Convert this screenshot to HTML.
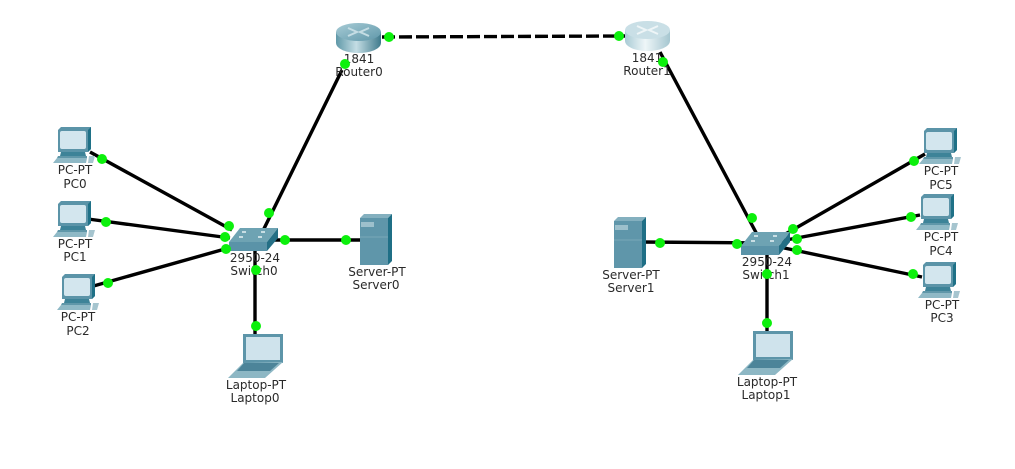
<!DOCTYPE html>
<html><head><meta charset="utf-8"><style>
html,body{margin:0;padding:0;background:#fff;width:1015px;height:469px;overflow:hidden}
svg{display:block}
text{font-family:"DejaVu Sans","Liberation Sans",sans-serif;font-size:12px;fill:#2a2a2a;text-anchor:middle}
.l{stroke:#000;stroke-width:3.4;fill:none}
.d{fill:#0cf00c}
</style></head><body>
<svg width="1015" height="469" viewBox="0 0 1015 469" xmlns="http://www.w3.org/2000/svg">
<defs>
<linearGradient id="r0" x1="0" x2="1" y1="0" y2="0"><stop offset="0" stop-color="#5f98a8"/><stop offset=".45" stop-color="#c4dde4"/><stop offset="1" stop-color="#3f7a8c"/></linearGradient>
<linearGradient id="r1" x1="0" x2="1" y1="0" y2="0"><stop offset="0" stop-color="#a9cbd5"/><stop offset=".45" stop-color="#eef6f8"/><stop offset="1" stop-color="#a5c6d0"/></linearGradient>
<linearGradient id="t0" x1="0" x2="1" y1="0" y2="1"><stop offset="0" stop-color="#a8ccd6"/><stop offset="1" stop-color="#5f97a9"/></linearGradient>
<g id="pc">
<path d="M5 3 L8 0 L38 0 L38 22 L35 25 L5 25Z" fill="#5b94a8"/>
<path d="M35 3 L38 0 L38 22 L35 25Z" fill="#1f7187"/>
<rect x="7" y="4" width="26" height="18" rx="2" fill="#d3e6ee"/>
<path d="M8 25 L32 25 L33 29 L7 29Z" fill="#3d8398"/>
<path d="M5 29 L34 29 L34 31 L4 31Z" fill="#5f97a9"/>
<path d="M4 31 L34 31 L33 36 L0 36Z" fill="#8fb9c6"/>
<path d="M36 29 L42 29 L40 36 L35 36Z" fill="#a6c5cf"/>
</g>
<g id="sw">
<path d="M0 14 L11 0 L49 0 L38 14Z" fill="#6ea3b3"/>
<path d="M0 14 L38 14 L38 23 L0 23Z" fill="#5a93a8"/>
<path d="M38 14 L49 0 L49 10 L38 23Z" fill="#246f85"/>
<path d="M13 4h4M32 4h4M10 9h4M29 9h4" stroke="#e6f1f4" stroke-width="1.4"/>
</g>
<g id="srv">
<path d="M0 4 L4 0 L32 0 L28 4Z" fill="#84b0bf"/>
<rect x="0" y="4" width="28" height="47" fill="#5f96aa"/>
<path d="M28 4 L32 0 L32 47 L28 51Z" fill="#1f6f86"/>
<rect x="1" y="8" width="13" height="5" fill="#9dc0cc"/>
<path d="M0 23H28" stroke="#78a8b8"/>
</g>
<g id="lap">
<path d="M15 0 L55 0 L55 29 L15 29Z" fill="#5d95a9"/>
<rect x="18" y="3" width="34" height="23" fill="#cfe3ec"/>
<path d="M15 29 L55 28 L37 44 L0 44Z" fill="#8db7c4"/>
<path d="M16 29 L51 29 L42 37 L9 37Z" fill="#4c8499"/>
</g>
<g id="rt">
<ellipse cx="22.5" cy="20" rx="22.5" ry="10" fill="url(#r0)"/>
<rect x="0" y="9" width="45" height="11" fill="url(#r0)"/>
<ellipse cx="22.5" cy="9" rx="22.5" ry="9" fill="url(#t0)"/>
<path d="M12 5 L21 9 L12 13M33 5 L24 9 L33 13" stroke="#c5dde4" stroke-width="2" fill="none"/>
</g>
<g id="rt1">
<ellipse cx="22.5" cy="20" rx="22.5" ry="10" fill="url(#r1)"/>
<rect x="0" y="9" width="45" height="11" fill="url(#r1)"/>
<ellipse cx="22.5" cy="9" rx="22.5" ry="9" fill="#c9dfe6"/>
<path d="M12 5 L21 9 L12 13M33 5 L24 9 L33 13" stroke="#eef5f7" stroke-width="2" fill="none"/>
</g>
</defs>

<path class="l" d="M90 152L232 230M88 219L230 238M90 287L232 247M342 70L255 247M270 240H360M255 245V335"/>
<path class="l" d="M382 37L625 36" stroke-dasharray="13 4"/>
<path class="l" d="M660 52L760 240M640 242L765 243M767 245V335M925 154L775 240M920 215L770 243M922 277L770 245"/>

<use href="#pc" x="53" y="127"/><use href="#pc" x="53" y="201"/><use href="#pc" x="57" y="274"/>
<use href="#pc" x="919" y="128"/><use href="#pc" x="916" y="194"/><use href="#pc" x="918" y="262"/>
<use href="#sw" x="229" y="228"/><use href="#sw" x="741" y="232"/>
<use href="#srv" x="360" y="214"/><use href="#srv" x="614" y="217"/>
<use href="#lap" x="228" y="334"/><use href="#lap" x="738" y="331"/>
<use href="#rt" x="336" y="23"/><use href="#rt1" x="625" y="21"/>

<text x="75" y="174">PC-PT</text><text x="75" y="188">PC0</text>
<text x="75" y="248">PC-PT</text><text x="75" y="261">PC1</text>
<text x="78" y="321">PC-PT</text><text x="78" y="335">PC2</text>
<text x="941" y="175">PC-PT</text><text x="941" y="189">PC5</text>
<text x="941" y="241">PC-PT</text><text x="941" y="255">PC4</text>
<text x="942" y="309">PC-PT</text><text x="942" y="322">PC3</text>
<text x="359" y="63">1841</text><text x="359" y="76">Router0</text>
<text x="647" y="62">1841</text><text x="647" y="75">Router1</text>
<text x="255" y="262">2950-24</text><text x="254" y="275">Switch0</text>
<text x="767" y="266">2950-24</text><text x="766" y="279">Switch1</text>
<text x="377" y="276">Server-PT</text><text x="376" y="289">Server0</text>
<text x="631" y="279">Server-PT</text><text x="631" y="292">Server1</text>
<text x="256" y="389">Laptop-PT</text><text x="255" y="402">Laptop0</text>
<text x="767" y="386">Laptop-PT</text><text x="766" y="399">Laptop1</text>

<g class="d">
<circle cx="102" cy="159" r="5"/><circle cx="106" cy="222" r="5"/><circle cx="108" cy="283" r="5"/>
<circle cx="229" cy="226" r="5"/><circle cx="225" cy="237" r="5"/><circle cx="226" cy="249" r="5"/>
<circle cx="345" cy="64" r="5"/><circle cx="269" cy="213" r="5"/><circle cx="285" cy="240" r="5"/><circle cx="346" cy="240" r="5"/>
<circle cx="256" cy="270" r="5"/><circle cx="256" cy="326" r="5"/>
<circle cx="389" cy="37" r="5"/><circle cx="619" cy="36" r="5"/>
<circle cx="663" cy="62" r="5"/><circle cx="752" cy="218" r="5"/>
<circle cx="660" cy="243" r="5"/><circle cx="737" cy="244" r="5"/>
<circle cx="793" cy="229" r="5"/><circle cx="797" cy="239" r="5"/><circle cx="797" cy="250" r="5"/>
<circle cx="767" cy="274" r="5"/><circle cx="767" cy="323" r="5"/>
<circle cx="914" cy="161" r="5"/><circle cx="911" cy="217" r="5"/><circle cx="913" cy="274" r="5"/>
</g>
</svg>
</body></html>
